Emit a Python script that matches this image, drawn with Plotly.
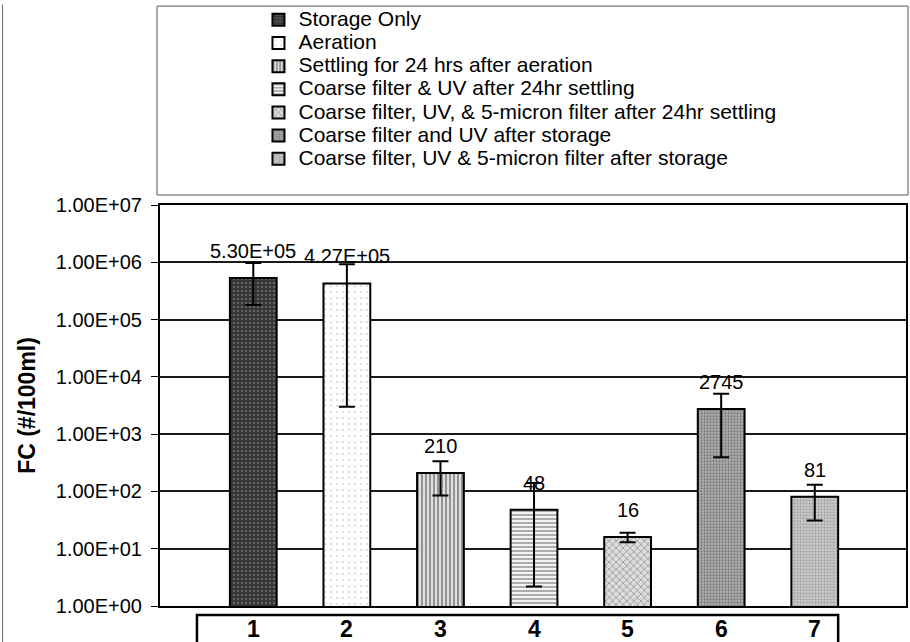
import math
import plotly.graph_objects as go

# ---- data ----
categories = [1, 2, 3, 4, 5, 6, 7]
series_names = [
    "Storage Only",
    "Aeration",
    "Settling for 24 hrs after aeration",
    "Coarse filter & UV after 24hr settling",
    "Coarse filter, UV, & 5-micron filter after 24hr settling",
    "Coarse filter and UV after storage",
    "Coarse filter, UV & 5-micron filter after storage",
]
fc_values = [5.30e5, 4.27e5, 210, 48, 16, 2745, 81]
err_plus = [4.4e5, 5.0e5, 125, 92, 3, 2350, 50]
err_minus = [3.5e5, 4.24e5, 125, 45.8, 3, 2350, 50]
value_labels = ["5.30E+05", "4.27E+05", "210", "48", "16", "2745", "81"]
ytick_vals = [1e0, 1e1, 1e2, 1e3, 1e4, 1e5, 1e6, 1e7]
ytick_text = ["1.00E+00", "1.00E+01", "1.00E+02", "1.00E+03",
              "1.00E+04", "1.00E+05", "1.00E+06", "1.00E+07"]

# ---- styles ----
styles = [
    dict(color="#343434", pattern=dict(shape=".", fgcolor="#8f8f8f", size=4, solidity=0.3)),
    dict(color="#ffffff", pattern=dict(shape=".", fgcolor="#bdbdbd", size=6, solidity=0.12)),
    dict(color="#e0e0e0", pattern=dict(shape="|", fgcolor="#333333", size=4, solidity=0.45)),
    dict(color="#f2f2f2", pattern=dict(shape="-", fgcolor="#444444", size=4, solidity=0.4)),
    dict(color="#dcdcdc", pattern=dict(shape="x", fgcolor="#555555", size=5, solidity=0.3)),
    dict(color="#b0b0b0", pattern=dict(shape=".", fgcolor="#4a4a4a", size=3, solidity=0.45)),
    dict(color="#cfcfcf", pattern=dict(shape=".", fgcolor="#777777", size=3, solidity=0.45)),
]

FONT = "Liberation Sans, Arial, sans-serif"

fig = go.Figure()
for i, name in enumerate(series_names):
    st = styles[i]
    fig.add_trace(go.Bar(
        x=[categories[i]], y=[fc_values[i]],
        name='<span style="font-size:21px">%s</span>' % name, width=0.5,
        marker=dict(color=st["color"], pattern=st["pattern"],
                    line=dict(color="black", width=2)),
        error_y=dict(type="data", symmetric=False,
                     array=[err_plus[i]], arrayminus=[err_minus[i]],
                     color="black", thickness=2, width=8),
    ))

for i, v in enumerate(fc_values):
    fig.add_annotation(x=categories[i], y=math.log10(v), text=value_labels[i],
                       showarrow=False, yshift=27, yanchor="middle",
                       font=dict(family=FONT, size=20, color="black"))

# category labels in boxed table below the plot
for c in categories:
    fig.add_annotation(x=c, y=-0.057, xref="x", yref="paper", text="<b>%d</b>" % c,
                       showarrow=False, yanchor="middle",
                       font=dict(family=FONT, size=23, color="black"))

# box around category labels
fig.add_shape(type="rect", xref="x", yref="paper", x0=0.398, x1=7.25, y0=-0.0224, y1=-0.3,
              line=dict(color="black", width=2.5), fillcolor="rgba(0,0,0,0)", layer="above")
# legend frame
fig.add_shape(type="rect", xref="paper", yref="paper", x0=-0.004, x1=1.0027, y0=1.025, y1=1.496,
              line=dict(color="#555555", width=1), fillcolor="rgba(0,0,0,0)")
# outer chart frame (left edge)
fig.add_shape(type="line", xref="paper", yref="paper", x0=-0.211, x1=-0.211, y0=1.50, y1=-0.1,
              line=dict(color="#666666", width=1))

fig.update_layout(
    width=910, height=642,
    margin=dict(l=160, r=2, t=205, b=36),
    paper_bgcolor="white", plot_bgcolor="white",
    barmode="overlay",
    font=dict(family=FONT, color="black"),
    showlegend=True,
    legend=dict(x=0.132, y=1.503, xanchor="left", yanchor="top",
                font=dict(family=FONT, size=15.5, color="black"),
                bgcolor="rgba(0,0,0,0)", borderwidth=0, tracegroupgap=0,
                itemwidth=30),
    xaxis=dict(range=[0.003, 7.975], showticklabels=False, ticks="",
               showgrid=False, zeroline=False,
               showline=True, linecolor="black", linewidth=2, mirror=True),
    yaxis=dict(type="log", range=[0, 7], tickvals=ytick_vals, ticktext=ytick_text,
               ticks="outside", ticklen=7, tickcolor="black", tickwidth=1,
               ticklabelstandoff=5,
               tickfont=dict(family=FONT, size=20, color="black"),
               showgrid=True, gridcolor="#1a1a1a", gridwidth=2,
               showline=True, linecolor="black", linewidth=2, mirror=True,
               zeroline=False,
               title=dict(text="<b>FC (#/100ml)</b>", standoff=14,
                          font=dict(family=FONT, size=23, color="black"))),
)

fig.write_html("out.html")
